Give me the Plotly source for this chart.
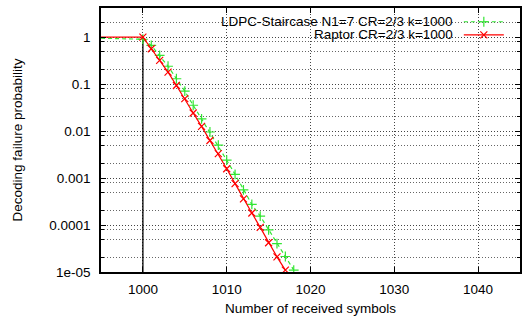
import plotly.graph_objects as go

# ---- data ----
raptor_symbols = [990, 1000, 1001, 1002, 1003, 1004, 1005, 1006, 1007, 1008, 1009,
                  1010, 1011, 1012, 1013, 1014, 1015, 1016, 1017]
raptor_fail = [1.0, 1.0, 0.566, 0.319, 0.180, 0.0933, 0.049, 0.0242, 0.0126, 0.0063,
               0.0033, 0.00158, 0.00076, 0.00036, 0.00018, 0.000089, 0.000042,
               0.000021, 0.000011]

ldpc_symbols = [990, 1000, 1001, 1002, 1003, 1004, 1005, 1006, 1007, 1008, 1009,
                1010, 1011, 1012, 1013, 1014, 1015, 1016, 1017, 1018]
ldpc_fail = [1.0, 0.9, 0.665, 0.407, 0.24, 0.130, 0.0708, 0.0355, 0.0182, 0.00955,
             0.0050, 0.0024, 0.0012, 0.00056, 0.000275, 0.000155, 0.000079,
             0.00004, 0.0000214, 0.000011]

threshold_x = [1000, 1000]
threshold_y = [1.0, 1e-6]

ldpc_label = "LDPC-Staircase N1=7 CR=2/3 k=1000"
raptor_label = "Raptor CR=2/3 k=1000"

y_tickvals = [1e-5, 1e-4, 1e-3, 1e-2, 1e-1, 1]
y_ticktext = ["1e-05", "0.0001", "0.001", "0.01", "0.1", "1"]
y_minor = [m * 10 ** e for e in range(-5, 1) for m in (2, 5, 8)]
x_tickvals = [1000, 1010, 1020, 1030, 1040]

FONT = "Liberation Sans, Arial, sans-serif"
FS = 13.5
GREEN = "#33e633"

ROW1_Y = 0.948
ROW2_Y = 0.898
LEG_X = 0.854
TEXT_X = 0.845

fig = go.Figure()
fig.add_trace(go.Scatter(
    x=threshold_x, y=threshold_y, mode="lines",
    line=dict(color="black", width=1.3), showlegend=False, hoverinfo="skip"))
fig.add_trace(go.Scatter(
    x=ldpc_symbols, y=ldpc_fail, mode="lines+markers", name="", legend="legend",
    line=dict(color=GREEN, width=1.2, dash="4px,3px"),
    marker=dict(symbol="cross-thin", size=7, line=dict(color=GREEN, width=1.2))))
fig.add_trace(go.Scatter(
    x=raptor_symbols, y=raptor_fail, mode="lines+markers", name="", legend="legend2",
    line=dict(color="red", width=1.2),
    marker=dict(symbol="x-thin", size=7, line=dict(color="red", width=1.2))))

grid_dash = "1px,2px"
leg_common = dict(xanchor="left", yanchor="middle", bgcolor="rgba(0,0,0,0)",
                  font=dict(size=9), itemwidth=40, tracegroupgap=0)
fig.update_layout(
    width=527, height=316,
    margin=dict(l=101, r=7, t=8, b=44, autoexpand=False),
    paper_bgcolor="white", plot_bgcolor="white",
    font=dict(family=FONT, size=FS, color="black"),
    showlegend=True,
    legend=dict(x=LEG_X, y=ROW1_Y, **leg_common),
    legend2=dict(x=LEG_X, y=ROW2_Y, **leg_common),
    xaxis=dict(
        range=[995, 1045], tickvals=x_tickvals, automargin=False,
        showline=True, linecolor="black", linewidth=1.5, mirror="ticks",
        ticks="inside", ticklen=5, tickcolor="black",
        showgrid=True, gridcolor="#444", gridwidth=1, griddash=grid_dash,
        zeroline=False, ticklabelstandoff=4,
        title=dict(text="Number of received symbols", standoff=9,
                   font=dict(size=FS))),
    yaxis=dict(
        type="log", range=[-5, 0.62], tickvals=y_tickvals, ticktext=y_ticktext,
        automargin=False,
        showline=True, linecolor="black", linewidth=1.5, mirror="ticks",
        ticks="inside", ticklen=5, tickcolor="black",
        showgrid=True, gridcolor="#444", gridwidth=1, griddash=grid_dash,
        zeroline=False, ticklabelstandoff=6,
        minor=dict(tickvals=y_minor, ticks="inside", ticklen=3, tickcolor="black",
                   showgrid=True, gridcolor="#666", gridwidth=1, griddash=grid_dash),
        title=dict(text="Decoding failure probability", standoff=24,
                   font=dict(size=FS))),
)

# legend background box covering grid lines
fig.add_shape(type="rect", xref="paper", yref="paper",
              x0=0.1885, x1=0.976, y0=0.871, y1=0.981,
              fillcolor="white", line=dict(width=0), layer="between")

fig.add_annotation(xref="paper", yref="paper", x=TEXT_X, y=ROW1_Y,
                   text=ldpc_label, showarrow=False, xanchor="right",
                   yanchor="middle", font=dict(size=FS))
fig.add_annotation(xref="paper", yref="paper", x=TEXT_X, y=ROW2_Y,
                   text=raptor_label, showarrow=False, xanchor="right",
                   yanchor="middle", font=dict(size=FS))

fig.write_html("out.html", config={"displayModeBar": False},
               post_script="document.body.style.margin='0px';")
